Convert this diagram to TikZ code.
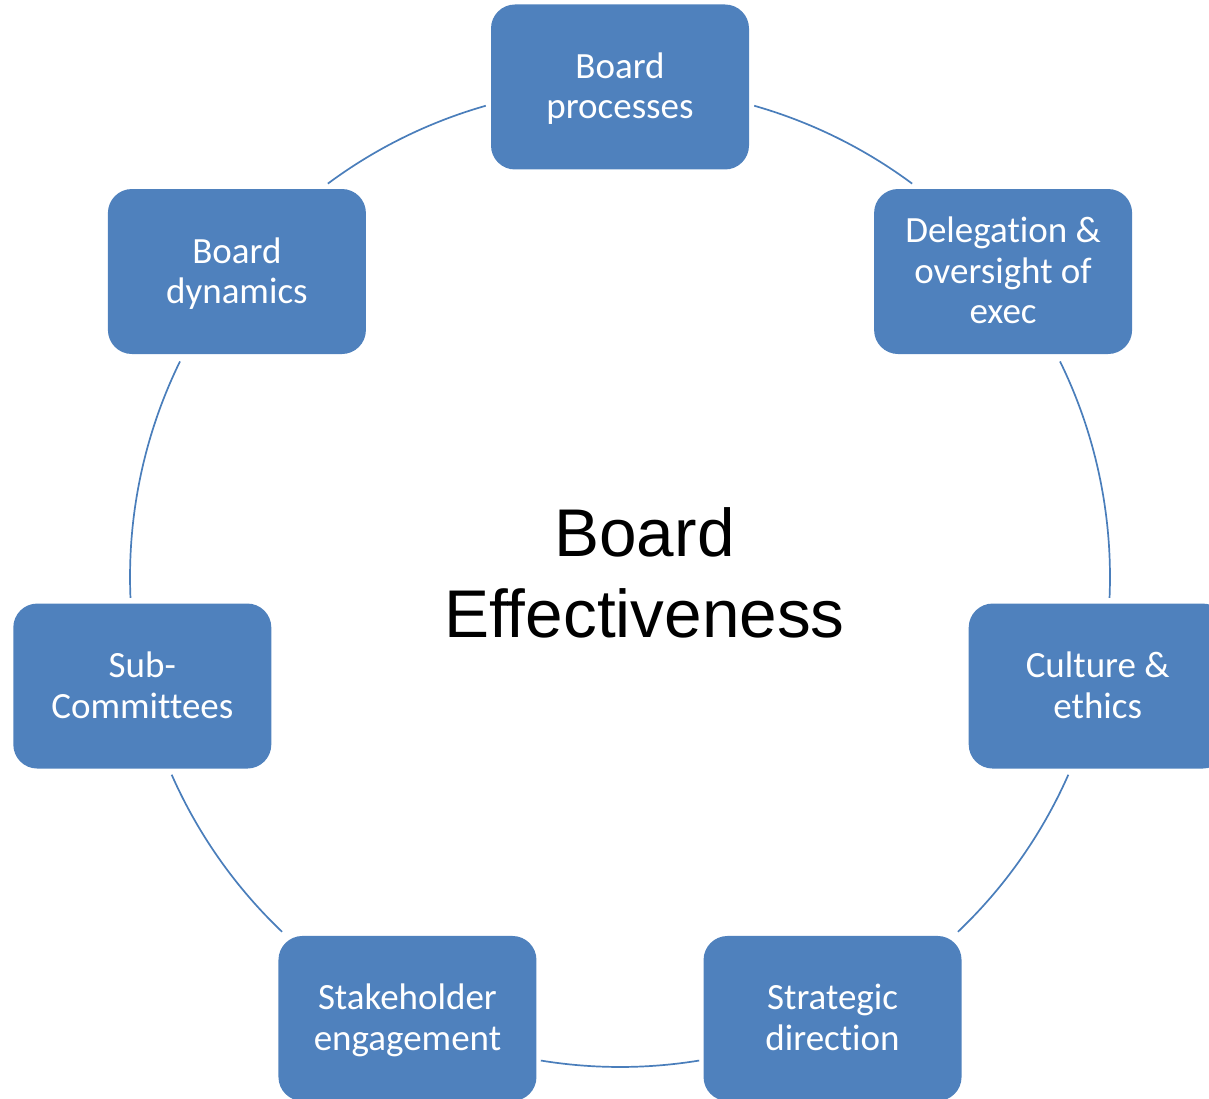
\documentclass[tikz,border=0pt]{standalone}
\usepackage{fontspec}
\setmainfont[Ligatures=NoCommon]{Carlito}
\newfontfamily\arialf[Ligatures=NoCommon]{Liberation Sans}
\usetikzlibrary{calc}
\definecolor{boxblue}{HTML}{4F81BD}
\definecolor{lineblue}{HTML}{4A7EBB}
\newcommand{\capstrut}{\rule{0pt}{23.5pt}}
\newcommand{\titlestrut}{\rule{0pt}{48pt}}
\begin{document}
\begin{tikzpicture}[x=1pt,y=1pt,
  stepbox/.style={rectangle, rounded corners=24pt, fill=boxblue, minimum width=258pt, minimum height=165pt, inner sep=0pt, text=white, align=center, font=\fontsize{37}{40.5}\selectfont},
  ring/.style={draw=lineblue, line width=1.7pt}]
\useasboundingbox (0,0) rectangle (1209,1098);
\coordinate (O) at (620,521);
% boxes
\node[stepbox] (bp)  at ($(O)+(90:490)$)      {\capstrut\smash{Board}\\\smash{processes}};
\node[stepbox] (del) at ($(O)+(38.57:490)$)   {\capstrut\smash{Delegation \&}\\\smash{oversight of}\\\smash{exec}};
\node[stepbox] (cul) at ($(O)+(-12.86:490)$)  {\capstrut\smash{Culture \&}\\\smash{ethics}};
\node[stepbox] (str) at ($(O)+(-64.29:490)$)  {\capstrut\smash{Strategic}\\\smash{direction}};
\node[stepbox] (stk) at ($(O)+(-115.71:490)$) {\capstrut\smash{Stakeholder}\\\smash{engagement}};
\node[stepbox] (sub) at ($(O)+(-167.14:490)$) {\capstrut\smash{Sub-}\\\smash{Committees}};
\node[stepbox] (dyn) at ($(O)+(141.43:490)$)  {\capstrut\smash{Board}\\\smash{dynamics}};
% title
\node[font=\arialf\fontsize{67.5}{80.5}\selectfont, align=center, inner sep=0pt] (title) at (644.5,525.2)
  {\titlestrut\smash{Board}\\\smash{Effectiveness}};
% arc end points
\coordinate (a1) at ($(O)+(74.1:490)$);
\coordinate (a2) at ($(O)+(26.1:490)$);
\coordinate (a3) at ($(O)+(-23.8:490)$);
\coordinate (a4) at ($(O)+(-80.7:490)$);
\coordinate (a5) at ($(O)+(-133.6:490)$);
\coordinate (a6) at ($(O)+(182.45:490)$);
\coordinate (a7) at ($(O)+(126.6:490)$);
% ring connectors
\draw[ring] (a1) arc[start angle=74.1,   end angle=53.4,   radius=490pt];
\draw[ring] (a2) arc[start angle=26.1,   end angle=-2.45,  radius=490pt];
\draw[ring] (a3) arc[start angle=-23.8,  end angle=-46.4,  radius=490pt];
\draw[ring] (a4) arc[start angle=-80.7,  end angle=-99.3,  radius=490pt];
\draw[ring] (a5) arc[start angle=-133.6, end angle=-156.2, radius=490pt];
\draw[ring] (a6) arc[start angle=182.45, end angle=153.9,  radius=490pt];
\draw[ring] (a7) arc[start angle=126.6,  end angle=105.9,  radius=490pt];
\end{tikzpicture}
\end{document}
